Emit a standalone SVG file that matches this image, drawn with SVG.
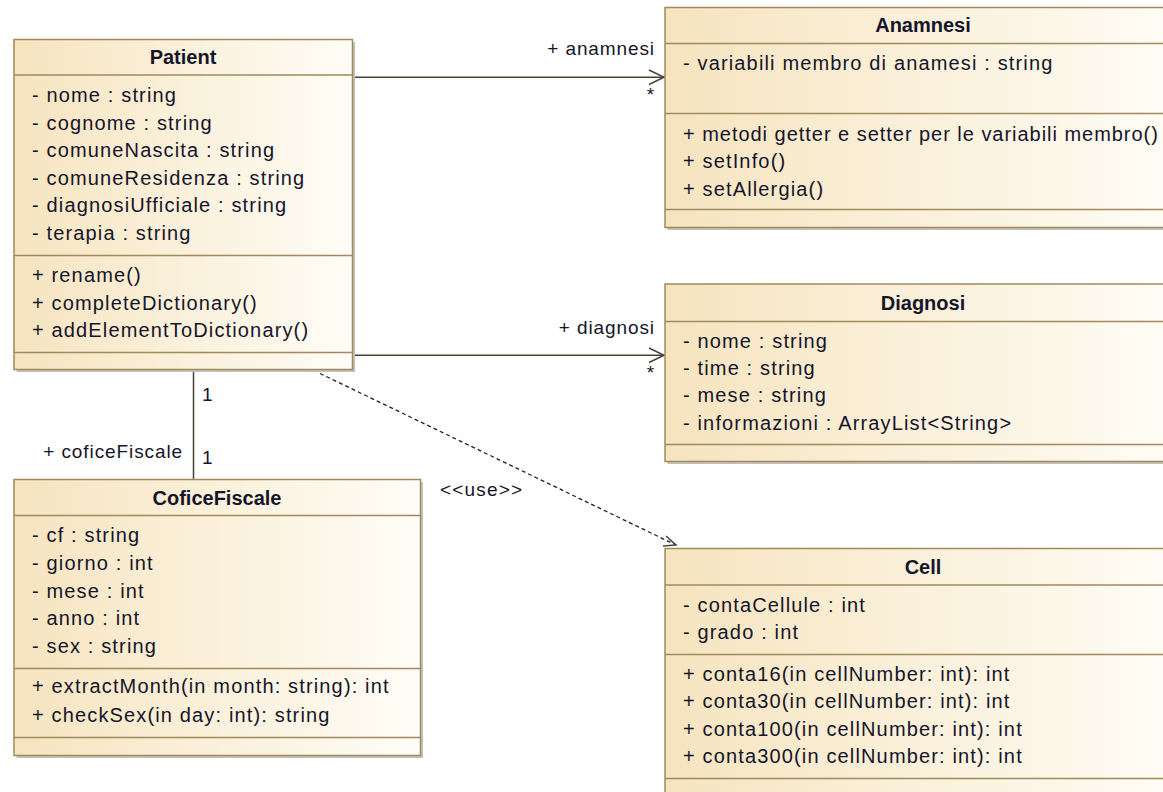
<svg xmlns="http://www.w3.org/2000/svg" width="1163" height="792" viewBox="0 0 1163 792">
<style>
.box{fill:url(#g);stroke:#a08a5c;stroke-width:1.5}
.sh{fill:#c4c2bd}
.dv{stroke:#a08a5c;stroke-width:1.5}
.t{font-family:"Liberation Sans",Arial,sans-serif;font-size:20px;letter-spacing:1.15px;fill:#15152a}
.ti{font-family:"Liberation Sans",Arial,sans-serif;font-weight:bold;font-size:20px;fill:#15152a;text-anchor:middle}
.lb{font-family:"Liberation Sans",Arial,sans-serif;font-size:19px;letter-spacing:0.9px;fill:#15152a}
.ln{stroke:#4a4236;stroke-width:1.5;fill:none}
.dash{stroke:#222;stroke-width:1.3;stroke-dasharray:4 3;fill:none}
</style>
<defs>
<linearGradient id="g" x1="0" y1="0" x2="1" y2="0">
<stop offset="0" stop-color="#f6e4bf"/>
<stop offset="1" stop-color="#fffdf7"/>
</linearGradient>
</defs>
<rect width="1163" height="792" fill="#ffffff"/>

<g id="connectors">
<line class="ln" x1="355" y1="77.3" x2="664" y2="77.3"/>
<polyline class="ln" points="649,70 664,77.3 649,84.5"/>
<line class="ln" x1="355" y1="355.3" x2="664" y2="355.3"/>
<polyline class="ln" points="649,348 664,355.3 649,362.5"/>
<line class="ln" x1="193.5" y1="370" x2="193.5" y2="479"/>
<line class="dash" x1="320" y1="373.5" x2="676" y2="545"/>
<polyline class="ln" stroke-width="1.3" points="666,536 676,545 663,546"/>
<text class="lb" x="655" y="55" text-anchor="end">+ anamnesi</text>
<text class="lb" x="651" y="101" font-size="14" text-anchor="middle">*</text>
<text class="lb" x="655" y="334" text-anchor="end">+ diagnosi</text>
<text class="lb" x="651" y="379" font-size="14" text-anchor="middle">*</text>
<text class="lb" x="202" y="401">1</text>
<text class="lb" x="202" y="464">1</text>
<text class="lb" x="183" y="458" text-anchor="end">+ coficeFiscale</text>
<text class="lb" x="440" y="496" font-size="17" letter-spacing="0" textLength="83">&lt;&lt;use&gt;&gt;</text>
</g>

<g id="Patient">
<rect class="sh" x="16.5" y="42" width="338.5" height="330"/>
<rect class="box" x="14" y="39.5" width="338.5" height="330"/>
<line class="dv" x1="14" y1="75" x2="352.5" y2="75"/>
<line class="dv" x1="14" y1="255.5" x2="352.5" y2="255.5"/>
<line class="dv" x1="14" y1="352.5" x2="352.5" y2="352.5"/>
<text class="ti" x="183" y="64">Patient</text>
<text class="t" x="32" y="102">- nome : string</text>
<text class="t" x="32" y="129.5">- cognome : string</text>
<text class="t" x="32" y="157">- comuneNascita : string</text>
<text class="t" x="32" y="184.5">- comuneResidenza : string</text>
<text class="t" x="32" y="212">- diagnosiUfficiale : string</text>
<text class="t" x="32" y="239.5">- terapia : string</text>
<text class="t" x="32" y="282">+ rename()</text>
<text class="t" x="32" y="309.5">+ completeDictionary()</text>
<text class="t" x="32" y="337">+ addElementToDictionary()</text>
</g>

<g id="Anamnesi">
<rect class="sh" x="667.5" y="10" width="520" height="220"/>
<rect class="box" x="665" y="7.5" width="520" height="220"/>
<line class="dv" x1="665" y1="43.5" x2="1185" y2="43.5"/>
<line class="dv" x1="665" y1="113.5" x2="1185" y2="113.5"/>
<line class="dv" x1="665" y1="209.5" x2="1185" y2="209.5"/>
<text class="ti" x="923" y="32">Anamnesi</text>
<text class="t" x="683" y="70">- variabili membro di anamesi : string</text>
<text class="t" x="683" y="141" letter-spacing="0" textLength="476">+ metodi getter e setter per le variabili membro()</text>
<text class="t" x="683" y="168.3">+ setInfo()</text>
<text class="t" x="683" y="195.6">+ setAllergia()</text>
</g>

<g id="Diagnosi">
<rect class="sh" x="667.5" y="286.5" width="520" height="177.5"/>
<rect class="box" x="665" y="284" width="520" height="177.5"/>
<line class="dv" x1="665" y1="321.5" x2="1185" y2="321.5"/>
<line class="dv" x1="665" y1="444.5" x2="1185" y2="444.5"/>
<text class="ti" x="923" y="310">Diagnosi</text>
<text class="t" x="683" y="347.7">- nome : string</text>
<text class="t" x="683" y="375">- time : string</text>
<text class="t" x="683" y="402.3">- mese : string</text>
<text class="t" x="683" y="429.5">- informazioni : ArrayList&lt;String&gt;</text>
</g>

<g id="CoficeFiscale">
<rect class="sh" x="16.5" y="482" width="406.5" height="276"/>
<rect class="box" x="14" y="479.5" width="406.5" height="276"/>
<line class="dv" x1="14" y1="515.5" x2="420.5" y2="515.5"/>
<line class="dv" x1="14" y1="668.5" x2="420.5" y2="668.5"/>
<line class="dv" x1="14" y1="737.5" x2="420.5" y2="737.5"/>
<text class="ti" x="217" y="505">CoficeFiscale</text>
<text class="t" x="32" y="541.7">- cf : string</text>
<text class="t" x="32" y="569.6">- giorno : int</text>
<text class="t" x="32" y="597.5">- mese : int</text>
<text class="t" x="32" y="625.4">- anno : int</text>
<text class="t" x="32" y="653.3">- sex : string</text>
<text class="t" x="32" y="693.3">+ extractMonth(in month: string): int</text>
<text class="t" x="32" y="721.5">+ checkSex(in day: int): string</text>
</g>

<g id="Cell">
<rect class="sh" x="667.5" y="551" width="520" height="260"/>
<rect class="box" x="665" y="548.5" width="520" height="260"/>
<line class="dv" x1="665" y1="585" x2="1185" y2="585"/>
<line class="dv" x1="665" y1="654.5" x2="1185" y2="654.5"/>
<line class="dv" x1="665" y1="778.5" x2="1185" y2="778.5"/>
<text class="ti" x="923" y="574">Cell</text>
<text class="t" x="683" y="611.7">- contaCellule : int</text>
<text class="t" x="683" y="639.3">- grado : int</text>
<text class="t" x="683" y="681">+ conta16(in cellNumber: int): int</text>
<text class="t" x="683" y="708.3">+ conta30(in cellNumber: int): int</text>
<text class="t" x="683" y="735.6">+ conta100(in cellNumber: int): int</text>
<text class="t" x="683" y="763">+ conta300(in cellNumber: int): int</text>
</g>
</svg>
